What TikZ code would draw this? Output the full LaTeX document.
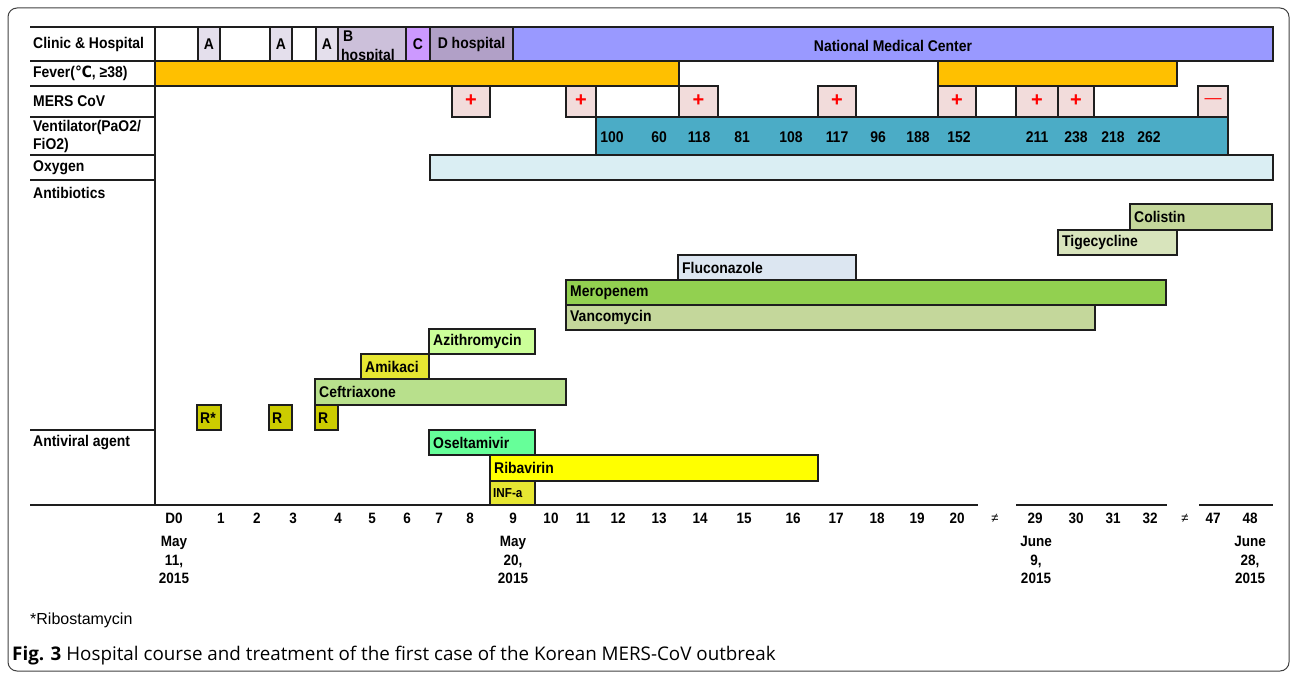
\documentclass[tikz,border=0pt]{standalone}
\usepackage{fontspec}
\setmainfont{Liberation Sans}
\newfontfamily\narrowfont[FakeStretch=0.9]{Liberation Sans}
\newfontfamily\symfont[FakeStretch=0.9]{DejaVu Sans}
\newfontfamily\capfont{Open Sans}
\usetikzlibrary{positioning}
\definecolor{clinicA}{RGB}{228, 223, 236}
\definecolor{clinicB}{RGB}{204, 192, 218}
\definecolor{clinicC}{RGB}{204, 153, 255}
\definecolor{clinicD}{RGB}{177, 160, 199}
\definecolor{nmc}{RGB}{153, 153, 255}
\definecolor{fever}{RGB}{255, 192, 0}
\definecolor{mers}{RGB}{242, 220, 219}
\definecolor{vent}{RGB}{75, 172, 198}
\definecolor{oxygen}{RGB}{218, 238, 243}
\definecolor{colistin}{RGB}{196, 215, 155}
\definecolor{tigecyc}{RGB}{216, 228, 188}
\definecolor{flucon}{RGB}{220, 230, 241}
\definecolor{meropen}{RGB}{146, 208, 80}
\definecolor{vancomy}{RGB}{196, 215, 155}
\definecolor{azithro}{RGB}{204, 255, 153}
\definecolor{amikaci}{RGB}{230, 230, 50}
\definecolor{ceftri}{RGB}{184, 224, 140}
\definecolor{ribo}{RGB}{204, 204, 0}
\definecolor{oselta}{RGB}{102, 255, 153}
\definecolor{ribavir}{RGB}{255, 255, 0}
\definecolor{infa}{RGB}{230, 230, 50}
\definecolor{edge}{RGB}{30, 30, 30}

% bar with a named label at its left end
\newcommand{\drugbar}[6]{%
  \draw[cell, fill=#6] (#2,#3) rectangle (#4,#5);
  \node[barlbl] (#1) at ({#2+4},{(#3+#5)/2}) {\csname lbl#1\endcsname};}

\begin{document}
\begin{tikzpicture}[
    x=1pt, y=-1pt,
    cell/.style={draw=edge, line width=1.8pt},
    tline/.style={draw=edge, line width=1.2pt},
    axisline/.style={draw=edge, line width=2pt},
    rowlbl/.style={anchor=west, inner sep=0pt, align=left,
                   font=\narrowfont\bfseries\fontsize{15.5}{18}\selectfont},
    barlbl/.style={anchor=west, inner sep=0pt,
                   font=\narrowfont\bfseries\fontsize{15.5}{18}\selectfont},
    celllbl/.style={inner sep=0pt,
                    font=\narrowfont\bfseries\fontsize{15.5}{18}\selectfont},
    merslbl/.style={inner sep=0pt, text=red,
                    font=\bfseries\fontsize{20}{20}\selectfont},
    daylbl/.style={inner sep=0pt,
                   font=\narrowfont\bfseries\fontsize{15}{18}\selectfont},
    datelbl/.style={inner sep=0pt, align=center,
                    font=\narrowfont\bfseries\fontsize{15}{18.5}\selectfont}
]
\useasboundingbox (0,0) rectangle (1292,674);

% outer frame
\draw[black!75, line width=1pt, rounded corners=9pt] (8,8) rectangle (1289,671);

% label column
\draw[tline] (30,27) -- (155,27);
\foreach \y in {61,86,117,155,180,430}
  \draw[tline] (30,\y) -- (155,\y);
\draw[tline] (155,27) -- (155,505);

\node[rowlbl] (lclinic) at (33,44) {Clinic \& Hospital};
\node[rowlbl] (lfever) at (33,73) {Fever({\symfont ℃}, ≥38)};
\node[rowlbl] (lmers) at (33,101) {MERS CoV};
\node[rowlbl] (lvent) at (33,136) {Ventilator(PaO2/\\FiO2)};
\node[rowlbl] (loxy) at (33,168) {Oxygen};
\node[rowlbl] (lanti) at (33,193) {Antibiotics};
\node[rowlbl] (lviral) at (33,443) {Antiviral agent};

% Clinic & Hospital
\draw[cell, fill=white] (155,27) rectangle (513,61);
\foreach \xa/\xb [count=\i] in {198/220, 270/292, 316/338} {
  \draw[cell, fill=clinicA] (\xa,27) rectangle (\xb,61);
  \node[celllbl] (clinA\i) at ({(\xa+\xb)/2},44) {A};
}
\draw[cell, fill=clinicB] (338,27) rectangle (406,61);
\begin{scope}
  \clip (338,28) rectangle (406,60);
  \node[celllbl, anchor=west] (hospB) at (343,36) {B};
  \node[celllbl, anchor=west] (hospBb) at (341,56) {hospital};
\end{scope}
\draw[cell, fill=clinicC] (406,27) rectangle (430,61);
\node[celllbl] (hospC) at (418,44) {C};
\draw[cell, fill=clinicD] (430,27) rectangle (513,61);
\node[celllbl] (hospD) at (471.5,44) {D hospital};
\draw[cell, fill=nmc] (513,27) rectangle (1273,61);
\node[celllbl] (nmc) at (893,46) {National Medical Center};

% Fever
\draw[cell, fill=fever] (155,61) rectangle (679,86);
\draw[cell, fill=fever] (938,61) rectangle (1177,86);

% MERS CoV
\foreach \xa/\xb [count=\i] in {452/490, 566/596, 679/718, 818/856,
                                938/976, 1016/1058, 1058/1094} {
  \draw[cell, fill=mers] (\xa,86) rectangle (\xb,117);
  \node[merslbl] (pos\i) at ({(\xa+\xb)/2},101) {+};
}
\draw[cell, fill=mers] (1198,86) rectangle (1228,117);
\node[merslbl, font=\fontsize{17}{18}\selectfont] (neg) at (1213,101) {---};

% Ventilator
\draw[cell, fill=vent] (596,117) rectangle (1228,155);
\foreach \v/\x in {100/612, 60/659, 118/699, 81/742, 108/791, 117/837,
                   96/878, 188/918, 152/959, 211/1037, 238/1076,
                   218/1113, 262/1149}
  \node[celllbl] (pf\x) at (\x,137) {\v};

% Oxygen
\draw[cell, fill=oxygen] (430,155) rectangle (1273,180);

% Antibiotics
\def\lblcolistin{Colistin}
\def\lbltigecyc{Tigecycline}
\def\lblflucon{Fluconazole}
\def\lblmeropen{Meropenem}
\def\lblvancomy{Vancomycin}
\def\lblazithro{Azithromycin}
\def\lblamikaci{Amikaci}
\def\lblceftri{Ceftriaxone}
\drugbar{colistin}{1130}{204}{1272}{230}{colistin}
\drugbar{tigecyc}{1058}{230}{1177}{255}{tigecyc}
\drugbar{flucon}{678}{255}{856}{280}{flucon}
\drugbar{meropen}{566}{280}{1166}{305}{meropen}
\drugbar{vancomy}{566}{305}{1095}{330}{vancomy}
\drugbar{azithro}{429}{329}{535}{354}{azithro}
\drugbar{amikaci}{361}{354}{429}{379}{amikaci}
\drugbar{ceftri}{315}{379}{566}{405}{ceftri}
\draw[cell, fill=ribo] (197,405) rectangle (221,430);
\node[barlbl] (ribostam) at (200,418) {R*};
\draw[cell, fill=ribo] (269,405) rectangle (292,430);
\node[barlbl] (riboa) at (272,418) {R};
\draw[cell, fill=ribo] (315,405) rectangle (338,430);
\node[barlbl] (ribob) at (318,418) {R};

% Antiviral agent
\def\lbloselta{Oseltamivir}
\def\lblribavir{Ribavirin}
\drugbar{oselta}{429}{430}{535}{455}{oselta}
\drugbar{ribavir}{490}{455}{818}{481}{ribavir}
\draw[cell, fill=infa] (490,481) rectangle (535,505);
\node[barlbl, font=\narrowfont\bfseries\fontsize{13}{15}\selectfont]
  (infa) at (493,493) {INF-a};

% time axis
\draw[axisline] (30,505) -- (978,505);
\draw[axisline] (1016,505) -- (1167,505);
\draw[axisline] (1199,505) -- (1273,505);
\foreach \d/\x in {D0/174, 1/221, 2/257, 3/293, 4/338, 5/372, 6/407,
                   7/439, 8/470, 9/513, 10/551, 11/583, 12/618, 13/659,
                   14/700, 15/744, 16/793, 17/836, 18/877, 19/917, 20/957,
                   29/1035, 30/1076, 31/1113, 32/1150, 47/1213, 48/1250}
  \node[daylbl] (day\d) at (\x,518) {\d};
\node[daylbl, font=\fontsize{13}{15}\selectfont] (gapa) at (995,518) {≠};
\node[daylbl, font=\fontsize{13}{15}\selectfont] (gapb) at (1185,518) {≠};

\node[datelbl] (may11) at (174,560) {May\\11,\\2015};
\node[datelbl] (may20) at (513,560) {May\\20,\\2015};
\node[datelbl] (june9) at (1036,560) {June\\9,\\2015};
\node[datelbl] (june28) at (1250,560) {June\\28,\\2015};

% footnote and caption
\node[anchor=west, inner sep=0pt, font=\fontsize{16}{18}\selectfont]
  (fnote) at (30,620) {*Ribostamycin};
\node[anchor=west, inner sep=0pt, font=\capfont\fontsize{18.8}{22}\selectfont]
  (caption) at (12,656)
  {\textbf{Fig. 3} Hospital course and treatment of the first case of the Korean MERS-CoV outbreak};
\end{tikzpicture}
\end{document}
